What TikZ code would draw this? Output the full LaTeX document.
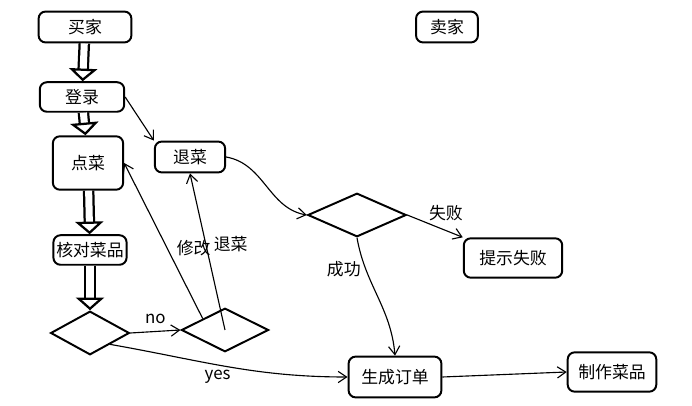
\documentclass[tikz,border=0pt]{standalone}
\usepackage{fontspec}
\setmainfont{Liberation Sans}
\newfontfamily\cjk{Noto Sans CJK SC}
\usetikzlibrary{shapes.geometric,arrows.meta}
\begin{document}
\begin{tikzpicture}[x=0.025cm,y=-0.025cm,>={Straight Barb[length=6pt,width=8pt]},
  font=\cjk\fontsize{12}{14}\selectfont,
  box/.style={draw,line width=1.4pt,rounded corners=5pt,inner sep=2pt},
  dia/.style={draw,line width=1.4pt,diamond,aspect=1.9,inner sep=0pt},
  thick arrow/.style={double,double distance=5pt,line width=1.6pt,-{Triangle[open,length=9pt,width=20pt]}},
  thin/.style={line width=0.8pt,->}]
  \useasboundingbox (0,0) rectangle (692,406);

  \node[box,minimum width=66pt,minimum height=22pt] (buyer) at (85,27) {买家};
  \node[box,minimum width=44pt,minimum height=22pt] (seller) at (447,27) {卖家};
  \node[box,minimum width=60pt,minimum height=21pt] (login) at (82,97) {登录};
  \node[box,minimum width=50pt,minimum height=38pt] (order) at (88,163) {点菜};
  \node[box,minimum width=50pt,minimum height=22pt] (cancel) at (190,157) {退菜};
  \node[box,minimum width=47pt,minimum height=21pt] (check) at (90,250) {核对菜品};
  \node[dia,minimum width=56pt,minimum height=31pt] (d1) at (90,333) {};
  \node[dia,minimum width=62pt,minimum height=31pt] (d2) at (225,330) {};
  \node[dia,minimum width=70pt,minimum height=31pt] (d3) at (357,215) {};
  \node[box,minimum width=70pt,minimum height=28pt] (fail) at (513,258) {提示失败};
  \node[box,minimum width=66pt,minimum height=29pt] (gen) at (395,377) {生成订单};
  \node[box,minimum width=63pt,minimum height=28pt] (make) at (612,372) {制作菜品};

  % hollow arrows
  \draw[thick arrow] (buyer) -- (login);
  \draw[thick arrow] (login) -- (order);
  \draw[thick arrow] (order) -- (check);
  \draw[thick arrow] (check) -- (d1);

  % thin arrows
  \draw[thin] (login.east) -- (cancel.north west);
  \draw[thin] (cancel.east) to[out=-10,in=170] (d3.west);
  \draw[thin] (d3.east) -- node[above right=-2pt,pos=0.35]{失败} (fail.north west);
  \draw[thin] (d3.south) to[out=-80,in=95] node[left,pos=0.25]{成功} (gen.north);
  \draw[thin] (d1.east) -- node[above=2pt]{no} (d2.west);
  \draw[thin] (d1.south east) to[out=-10,in=180] node[below,pos=0.45]{yes} (gen.west);
  \draw[thin] (d2.north west) -- node[right=3pt,pos=0.45]{修改} (order.east);
  \draw[thin] (d2.center) -- node[right=2pt,pos=0.55]{退菜} (cancel.south);
  \draw[thin] (gen.east) -- (make.west);
\end{tikzpicture}
\end{document}
